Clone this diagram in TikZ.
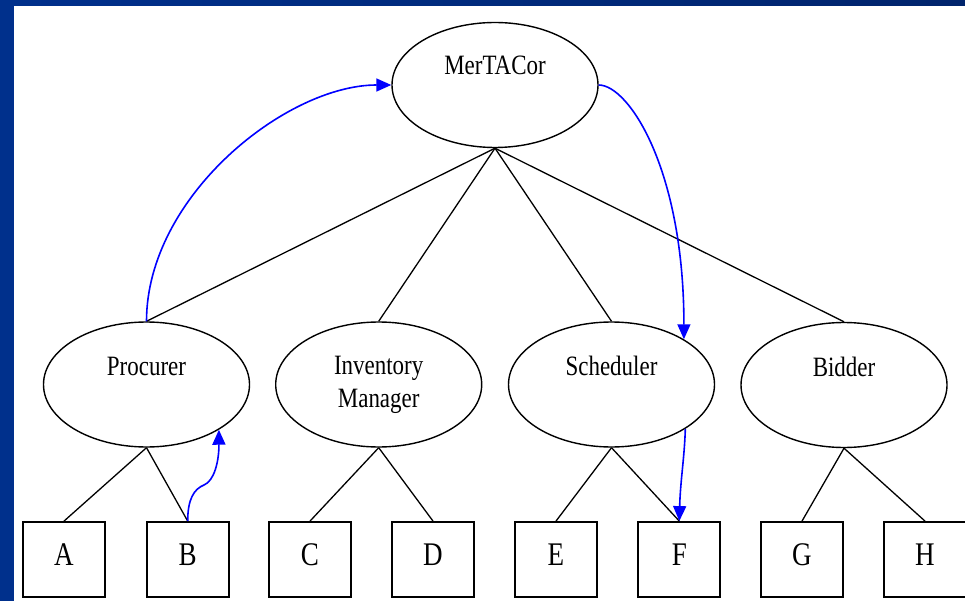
\documentclass[tikz,border=0pt]{standalone}
\usepackage{fontspec}
\newfontfamily\nodefont{Liberation Serif}[FakeStretch=0.82]
\usetikzlibrary{arrows.meta,shapes.geometric}
\definecolor{framebluea}{RGB}{0,48,140}
\definecolor{frameblueb}{RGB}{0,36,108}
\definecolor{linkblue}{RGB}{0,0,255}
\tikzset{
  agent/.style={ellipse, draw=black, line width=1.4pt, minimum width=206pt,
    minimum height=125pt, inner sep=0pt, align=center,
    font=\nodefont\fontsize{28}{33}\selectfont},
  agentlow/.style={agent, text height=20pt, text depth=38pt},
  task/.style={rectangle, draw=black, line width=1.8pt, minimum width=82pt,
    minimum height=75pt, inner sep=0pt, text height=20pt, text depth=9pt,
    font=\nodefont\fontsize{33}{38}\selectfont},
  tree/.style={draw=black, line width=1.3pt},
  flow/.style={draw=linkblue, line width=1.6pt,
    -{Triangle[length=15pt,width=13pt]}}
}
\begin{document}
\begin{tikzpicture}[x=1pt,y=-1pt]
\useasboundingbox (0,0) rectangle (965,601);
% slide frame and white panel
\shade[left color=framebluea, right color=frameblueb] (0,0) rectangle (965,601);
\fill[white] (14,6) rectangle (966,602);

% agents
\node[agent, text height=19pt, text depth=39pt] (mer) at (495,85) {MerTACor};
\node[agentlow] (proc)  at (146.5,384.5) {Procurer};
\node[agent]    (inv)   at (378.7,384.5) {Inventory\\Manager};
\node[agentlow] (sched) at (611.5,384.5) {Scheduler};
\node[agentlow] (bid)   at (844,385)     {Bidder};

% tasks
\node[task] (A) at (64,559.5)    {A};
\node[task] (B) at (187.7,559.5) {B};
\node[task] (C) at (310,559.5)   {C};
\node[task] (D) at (433,559.5)   {D};
\node[task] (E) at (556,559.5)   {E};
\node[task] (F) at (679.3,559.5) {F};
\node[task] (G) at (802,559.5)   {G};
\node[task] (H) at (925,559.5)   {H};

% hierarchy
\foreach \c in {proc,inv,sched,bid}
  \draw[tree] (mer.south) -- (\c.north);
\draw[tree] (proc.south) -- (A.north);
\draw[tree] (proc.south) -- (B.north);
\draw[tree] (inv.south) -- (C.north);
\draw[tree] (inv.south) -- (D.north);
\draw[tree] (sched.south) -- (E.north);
\draw[tree] (sched.south) -- (F.north);
\draw[tree] (bid.south) -- (G.north);
\draw[tree] (bid.south) -- (H.north);

% message flow
\draw[flow] (proc.north) .. controls +(0,-125) and +(-105,0) .. (mer.west);
\draw[flow] (mer.east) .. controls +(30,0) and +(0,-170) .. (sched.32);
\draw[flow] (B.north) .. controls +(0,-22) and (194,489) .. (204,485)
  .. controls (214,481) and (219,462) .. (proc.-32);
\draw[flow] (sched.-31) .. controls +(-1,30) and +(1,-40) .. (F.north);
\end{tikzpicture}
\end{document}
